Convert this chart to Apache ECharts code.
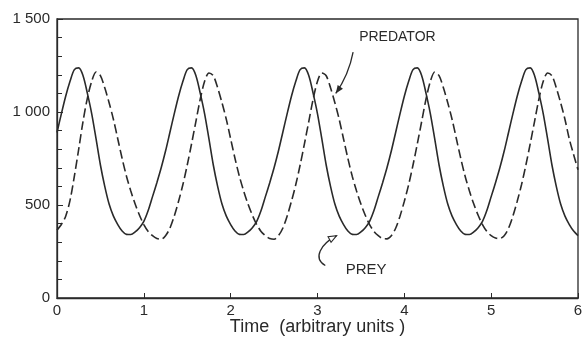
<!DOCTYPE html>
<html>
<head>
<meta charset="utf-8">
<script src="https://cdn.jsdelivr.net/npm/echarts@6/dist/echarts.min.js"></script>
<style>
  html, body { margin: 0; padding: 0; background: #fff; }
  #chart { width: 584px; height: 339px; }
</style>
</head>
<body>
<div id="chart"></div>
<script>
// sample times (arbitrary units), every 0.05
const time = [
  0, 0.05, 0.1, 0.15, 0.2, 0.25, 0.3, 0.35, 0.4, 0.45, 0.5, 0.55, 0.6, 0.65, 0.7, 0.75, 0.8, 0.85, 0.9, 0.95,
  1, 1.05, 1.1, 1.15, 1.2, 1.25, 1.3, 1.35, 1.4, 1.45, 1.5, 1.55, 1.6, 1.65, 1.7, 1.75, 1.8, 1.85, 1.9, 1.95,
  2, 2.05, 2.1, 2.15, 2.2, 2.25, 2.3, 2.35, 2.4, 2.45, 2.5, 2.55, 2.6, 2.65, 2.7, 2.75, 2.8, 2.85, 2.9, 2.95,
  3, 3.05, 3.1, 3.15, 3.2, 3.25, 3.3, 3.35, 3.4, 3.45, 3.5, 3.55, 3.6, 3.65, 3.7, 3.75, 3.8, 3.85, 3.9, 3.95,
  4, 4.05, 4.1, 4.15, 4.2, 4.25, 4.3, 4.35, 4.4, 4.45, 4.5, 4.55, 4.6, 4.65, 4.7, 4.75, 4.8, 4.85, 4.9, 4.95,
  5, 5.05, 5.1, 5.15, 5.2, 5.25, 5.3, 5.35, 5.4, 5.45, 5.5, 5.55, 5.6, 5.65, 5.7, 5.75, 5.8, 5.85, 5.9, 5.95,
  6
];

// prey population (solid line)
const prey = [
  890, 990, 1085, 1165, 1228, 1237, 1195, 1100, 990, 855, 715, 600, 505, 440, 395, 360, 342, 341, 355, 378,
  412, 470, 545, 620, 700, 790, 890, 990, 1085, 1165, 1228, 1237, 1195, 1100, 990, 855, 715, 600, 505, 440,
  395, 360, 342, 341, 355, 378, 412, 470, 545, 620, 700, 790, 890, 990, 1085, 1165, 1228, 1237, 1195, 1100,
  990, 855, 715, 600, 505, 440, 395, 360, 342, 341, 355, 378, 412, 470, 545, 620, 700, 790, 890, 990,
  1085, 1165, 1228, 1237, 1195, 1100, 990, 855, 715, 600, 505, 440, 395, 360, 342, 341, 355, 378, 412, 470,
  545, 620, 700, 790, 890, 990, 1085, 1165, 1228, 1237, 1195, 1100, 990, 855, 715, 600, 505, 440, 395, 360,
  335
];

// predator population (dashed line)
const predator = [
  365, 395, 440, 525, 655, 800, 950, 1075, 1165, 1215, 1195, 1130, 1050, 960, 855, 750, 655, 575, 505, 445,
  395, 358, 335, 320, 316, 335, 375, 440, 520, 610, 715, 830, 950, 1070, 1165, 1210, 1195, 1130, 1050, 960,
  855, 750, 655, 575, 505, 445, 395, 358, 335, 320, 316, 335, 375, 440, 520, 610, 715, 830, 950, 1070,
  1165, 1210, 1195, 1130, 1050, 960, 855, 750, 655, 575, 505, 445, 395, 358, 335, 320, 318, 335, 375, 440,
  520, 610, 715, 830, 950, 1070, 1165, 1215, 1195, 1130, 1050, 960, 855, 750, 655, 575, 505, 445, 395, 358,
  335, 322, 320, 335, 375, 440, 520, 610, 715, 830, 950, 1070, 1165, 1210, 1195, 1130, 1050, 960, 855, 770,
  690
];

const yTicks = [0, 500, 1000, 1500];
const yTickLabels = ["0", "500", "1 000", "1 500"];
const xTickLabels = ["0", "1", "2", "3", "4", "5", "6"];

const ink = "#2a2a2a";
const font = "Liberation Sans";

const chart = echarts.init(document.getElementById("chart"));

chart.setOption({
  animation: false,
  backgroundColor: "#fff",
  grid: {
    left: 57,
    right: 6,
    top: 19,
    bottom: 41,
    outerBoundsMode: "none",
    show: true,
    borderColor: ink,
    borderWidth: 1.3,
  },
  xAxis: {
    type: "value",
    min: 0,
    max: 6,
    interval: 1,
    name: "Time  (arbitrary units )",
    nameLocation: "middle",
    nameGap: 20,
    nameMoveOverlap: false,
    nameTextStyle: { fontFamily: font, fontSize: 18, color: ink },
    axisLine: { lineStyle: { color: ink, width: 1.3 } },
    axisTick: { inside: true, length: 5, lineStyle: { color: ink } },
    splitLine: { show: false },
    axisLabel: {
      margin: 5,
      fontFamily: font,
      fontSize: 15,
      color: ink,
      formatter: (v) => xTickLabels[Math.round(v)],
    },
  },
  yAxis: {
    type: "value",
    min: yTicks[0],
    max: yTicks[yTicks.length - 1],
    interval: 500,
    axisLine: { show: true, lineStyle: { color: ink, width: 1.3 } },
    axisTick: { show: true, inside: true, length: 6, lineStyle: { color: ink } },
    minorTick: { show: true, splitNumber: 5, length: 5, lineStyle: { color: ink } },
    splitLine: { show: false },
    axisLabel: {
      margin: 7,
      fontFamily: font,
      fontSize: 15,
      color: ink,
      formatter: (v) => yTickLabels[yTicks.indexOf(v)],
    },
  },
  series: [
    {
      name: "Prey",
      type: "line",
      data: time.map((t, i) => [t, prey[i]]),
      smooth: 0.3,
      showSymbol: false,
      lineStyle: { color: ink, width: 1.6 },
    },
    {
      name: "Predator",
      type: "line",
      data: time.map((t, i) => [t, predator[i]]),
      smooth: 0.3,
      showSymbol: false,
      lineStyle: { color: ink, width: 1.6, type: [9, 4] },
    },
  ],
});

// hand-lettered labels with arrows, anchored in data space
const px = (t, v) => chart.convertToPixel({ gridIndex: 0 }, [t, v]);

function arrowHead(tip, from, size) {
  const dx = tip[0] - from[0];
  const dy = tip[1] - from[1];
  const len = Math.hypot(dx, dy) || 1;
  const ux = dx / len, uy = dy / len;
  const bx = tip[0] - ux * size, by = tip[1] - uy * size;
  return [
    tip,
    [bx - uy * size * 0.4, by + ux * size * 0.4],
    [bx + uy * size * 0.4, by - ux * size * 0.4],
  ];
}

const predLabel = px(3.92, 1400);
const predStart = px(3.41, 1322);
const predCtrl = px(3.36, 1200);
const predTip = px(3.21, 1100);

const preyLabel = px(3.56, 150);
const preyStart = px(3.09, 175);
const preyCtrl1 = px(2.94, 215);
const preyCtrl2 = px(3.04, 290);
const preyTip = px(3.22, 335);

chart.setOption({
  graphic: [
    {
      type: "text",
      x: predLabel[0],
      y: predLabel[1],
      style: {
        text: "PREDATOR",
        fontFamily: font,
        fontSize: 14,
        fill: ink,
        align: "center",
        verticalAlign: "middle",
      },
    },
    {
      type: "bezierCurve",
      shape: {
        x1: predStart[0], y1: predStart[1],
        x2: predTip[0], y2: predTip[1],
        cpx1: predCtrl[0], cpy1: predCtrl[1],
      },
      style: { stroke: ink, lineWidth: 1.3, fill: null },
    },
    {
      type: "polygon",
      shape: { points: arrowHead(predTip, predCtrl, 8) },
      style: { fill: ink },
    },
    {
      type: "text",
      x: preyLabel[0],
      y: preyLabel[1],
      style: {
        text: "PREY",
        fontFamily: font,
        fontSize: 15,
        fill: ink,
        align: "center",
        verticalAlign: "middle",
      },
    },
    {
      type: "bezierCurve",
      shape: {
        x1: preyStart[0], y1: preyStart[1],
        x2: preyTip[0], y2: preyTip[1],
        cpx1: preyCtrl1[0], cpy1: preyCtrl1[1],
        cpx2: preyCtrl2[0], cpy2: preyCtrl2[1],
      },
      style: { stroke: ink, lineWidth: 1.3, fill: null },
    },
    {
      type: "polygon",
      shape: { points: arrowHead(preyTip, preyCtrl2, 8) },
      style: { fill: "#fff", stroke: ink, lineWidth: 1.1 },
    },
  ],
});
</script>
</body>
</html>
